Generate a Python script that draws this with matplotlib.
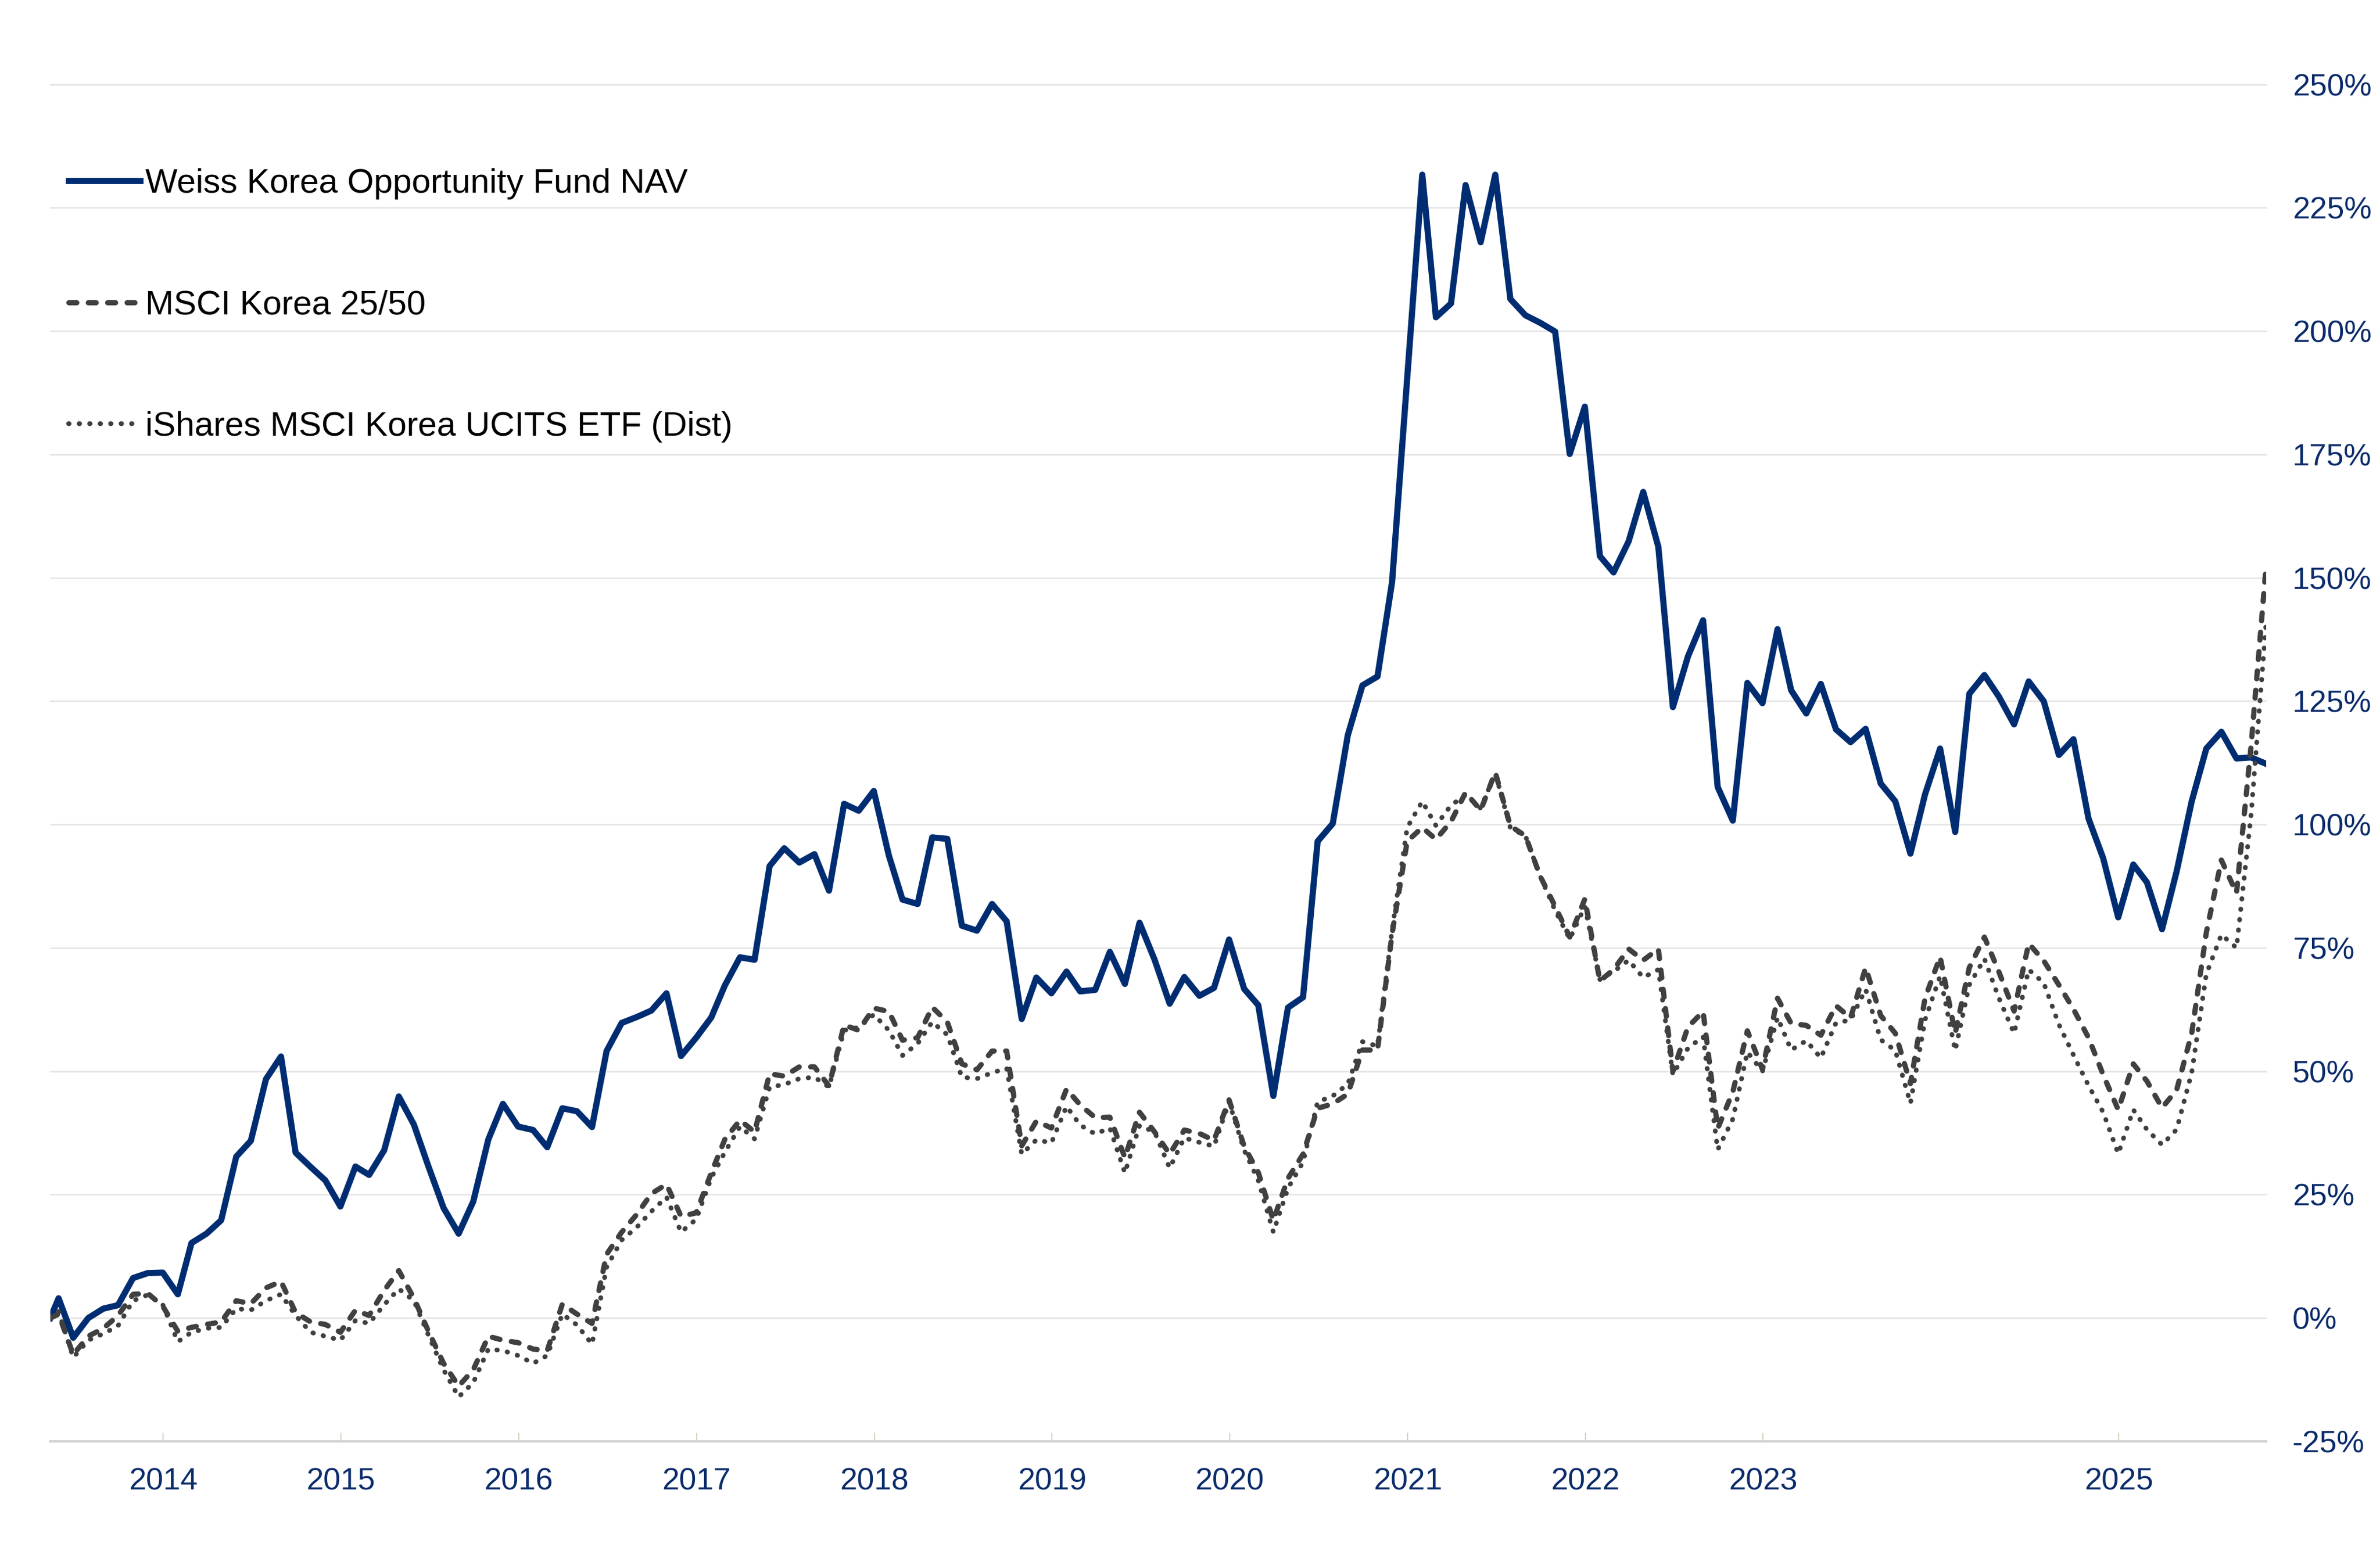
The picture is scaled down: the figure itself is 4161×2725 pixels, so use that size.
import matplotlib
matplotlib.use("Agg")
import matplotlib.pyplot as plt
import pandas as pd

# ---------------- data (cumulative return, %) ----------------
inception = "2013-05-14"
first_month_end = "2013-05-31"
n_month_ends = 150

nav = [
    0.0, 4.0, -4.0, 0.0, 1.9, 2.6, 8.1, 9.1, 9.2,
    4.8, 15.2, 17.1, 19.8, 32.7, 35.9, 48.4, 53.0, 33.5, 30.6, 27.9, 22.6,
    30.7, 29.0, 34.0, 44.9, 39.2, 30.7, 22.3, 17.1, 23.6, 36.2, 43.4, 38.8,
    38.1, 34.6, 42.5, 41.9, 38.7, 54.1, 59.8, 61.0, 62.3, 65.8, 53.1, 56.8,
    60.9, 67.4, 73.1, 72.6, 91.6, 95.2, 92.3, 94.0, 86.6, 104.2, 102.8, 106.8,
    93.7, 84.8, 83.9, 97.4, 97.1, 79.5, 78.5, 83.9, 80.4, 60.6, 69.0, 65.8,
    70.2, 66.2, 66.5, 74.2, 67.7, 80.1, 72.6, 63.7, 69.1, 65.3, 66.9, 76.7,
    66.7, 63.4, 45.0, 62.9, 65.0, 96.6, 100.2, 118.1, 128.2, 130.0, 149.2, 190.5,
    231.7, 202.8, 205.6, 229.6, 218.0, 231.7, 206.5, 203.2, 201.7, 199.9, 175.1, 184.7,
    154.4, 151.1, 157.4, 167.4, 156.3, 123.8, 134.1, 141.4, 107.6, 100.8, 128.7, 124.6,
    139.6, 127.2, 122.5, 128.5, 119.3, 116.7, 119.4, 108.3, 104.7, 94.1, 106.1, 115.4,
    98.5, 126.5, 130.3, 125.9, 120.3, 129.0, 125.0, 114.1, 117.3, 101.2, 93.2, 81.2,
    91.9, 88.3, 78.8, 90.5, 104.7, 115.4, 118.8, 113.4, 113.6, 112.3,
]

msci = [
    0.0, 0.8, -7.4, -3.7, -2.1, 0.5, 4.8, 5.0, 2.4,
    -2.7, -1.9, -1.3, -0.8, 3.5, 2.9, 6.1, 7.4, 1.1, -0.8, -1.3, -2.9,
    1.6, 0.5, 5.6, 9.6, 4.0, -2.7, -9.2, -13.8, -10.5, -3.7, -4.5, -5.0,
    -6.3, -6.6, 2.8, 0.8, -1.1, 12.9, 17.4, 21.0, 25.2, 27.1, 20.6, 21.3,
    29.4, 36.2, 40.1, 37.7, 49.5, 49.0, 50.9, 50.9, 47.0, 59.4, 58.3, 62.8,
    62.1, 56.3, 56.8, 63.0, 60.0, 51.5, 50.3, 54.1, 54.1, 34.9, 39.9, 38.5,
    46.4, 43.2, 40.6, 40.7, 32.5, 41.7, 37.7, 33.2, 38.1, 37.4, 36.0, 44.2,
    34.8, 29.5, 19.8, 28.3, 33.2, 42.5, 43.4, 45.4, 54.3, 54.3, 77.9, 96.6,
    99.4, 97.0, 100.6, 106.5, 102.9, 110.6, 99.7, 97.7, 89.6, 83.4, 77.2, 84.9,
    68.3, 70.6, 74.8, 72.5, 74.8, 50.0, 59.0, 62.1, 38.4, 45.8, 58.2, 50.4,
    64.8, 59.7, 59.3, 57.3, 63.3, 60.8, 71.0, 61.3, 57.7, 47.5, 64.8, 73.2,
    57.7, 71.0, 77.2, 70.1, 62.2, 75.9, 72.4, 67.5, 62.6, 56.8, 49.3, 42.2,
    51.5, 48.0, 42.6, 46.2, 57.7, 78.1, 92.8, 86.1, 116.0, 152.5,
]

ishares = [
    0.0, 1.3, -8.0, -4.5, -3.2, -1.6, 3.5, 4.7, 2.7,
    -4.8, -2.9, -2.1, -1.9, 1.9, 1.6, 3.5, 4.8, 0.5, -2.9, -3.7, -4.5,
    -0.5, -1.1, 2.7, 5.9, 3.5, -3.5, -10.5, -16.0, -13.1, -6.3, -6.6, -7.6,
    -9.2, -7.6, 0.8, -1.4, -5.3, 10.3, 15.8, 18.4, 21.6, 24.5, 17.4, 20.0,
    28.4, 33.6, 38.8, 36.3, 46.8, 47.3, 48.5, 48.8, 46.8, 58.3, 58.9, 61.5,
    58.3, 53.2, 55.6, 60.0, 57.4, 48.8, 48.5, 49.7, 50.6, 33.2, 36.1, 35.5,
    42.9, 39.1, 37.3, 38.5, 29.4, 39.0, 37.7, 30.4, 36.5, 35.6, 34.8, 43.8,
    34.0, 27.9, 17.4, 26.3, 31.6, 43.8, 45.0, 47.4, 56.0, 55.1, 78.7, 99.4,
    104.7, 99.8, 103.9, 106.0, 103.3, 110.4, 99.3, 97.7, 89.6, 82.6, 76.8, 83.4,
    68.6, 70.2, 72.5, 69.0, 70.6, 49.3, 54.7, 57.0, 34.1, 40.3, 53.9, 50.0,
    60.9, 54.3, 56.2, 52.7, 59.8, 60.4, 66.6, 56.4, 54.2, 43.5, 60.4, 69.3,
    54.2, 67.5, 72.8, 64.8, 57.7, 70.6, 67.9, 59.5, 53.3, 47.1, 41.7, 33.3,
    42.2, 38.2, 35.1, 38.2, 49.7, 69.7, 77.7, 75.0, 102.0, 141.0,
]

series_labels = [
    "Weiss Korea Opportunity Fund NAV",
    "MSCI Korea 25/50",
    "iShares MSCI Korea UCITS ETF (Dist)",
]
y_ticks = [-25, 0, 25, 50, 75, 100, 125, 150, 175, 200, 225, 250]
y_tick_labels = [f"{v}%" for v in y_ticks]
x_tick_years = [2014, 2015, 2016, 2017, 2018, 2019, 2020, 2021, 2022, 2023, 2025]
x_tick_labels = [str(y) for y in x_tick_years]

# ---------------- figure ----------------
plt.rcParams['font.family'] = ['Liberation Sans', 'DejaVu Sans']

dates = [pd.Timestamp(inception)] + list(
    pd.date_range(first_month_end, periods=n_month_ends, freq=pd.offsets.MonthEnd())
)

navy = "#002d72"
label_navy = "#0b2c6b"
grey = "#404040"

W, H = 4161, 2725
fig = plt.figure(figsize=(W / 300, H / 300), dpi=300)
ax = fig.add_axes([88 / W, (H - 2521) / H, (3962 - 88) / W, (2521 - 147.6) / H])

ax.plot(dates, nav, color=navy, lw=2.6, solid_joinstyle="round",
        label=series_labels[0], zorder=3)
ax.plot(dates, msci, color=grey, lw=2.2, ls=(0, (1.5, 2.2)),
        dash_capstyle="round", dash_joinstyle="round",
        label=series_labels[1], zorder=4)
ax.plot(dates, ishares, color=grey, lw=2.0, ls=(0, (0.1, 2.1)),
        dash_capstyle="round", dash_joinstyle="round",
        label=series_labels[2], zorder=5)

ax.set_xlim(dates[0], dates[-1])
ax.set_ylim(-25, 250)

ax.set_yticks(y_ticks)
ax.set_yticklabels(y_tick_labels)
ax.yaxis.tick_right()
ax.yaxis.grid(True, color="#e3e3e3", lw=0.6)
for gl in ax.get_ygridlines():
    gl.set_clip_on(False)
ax.set_axisbelow(True)
ax.tick_params(axis="y", length=0, pad=11, labelsize=13, labelcolor=label_navy)

ax.set_xticks([pd.Timestamp(f"{y}-01-01") for y in x_tick_years])
ax.set_xticklabels(x_tick_labels)
ax.tick_params(axis="x", direction="in", length=3.5, width=0.5, color="#d8d4c4",
               pad=11, labelsize=13, labelcolor=label_navy)

for s in ["top", "left", "right"]:
    ax.spines[s].set_visible(False)
ax.spines["bottom"].set_color("#d0d0d0")
ax.spines["bottom"].set_linewidth(1.0)

ax.legend(loc="upper left", bbox_to_anchor=(0.0083, 0.9384), frameon=False,
          fontsize=14.3, handlelength=2.1, handletextpad=0.15, labelspacing=2.645,
          borderaxespad=0, borderpad=0)

fig.savefig("out.png", dpi=300, facecolor="white")
